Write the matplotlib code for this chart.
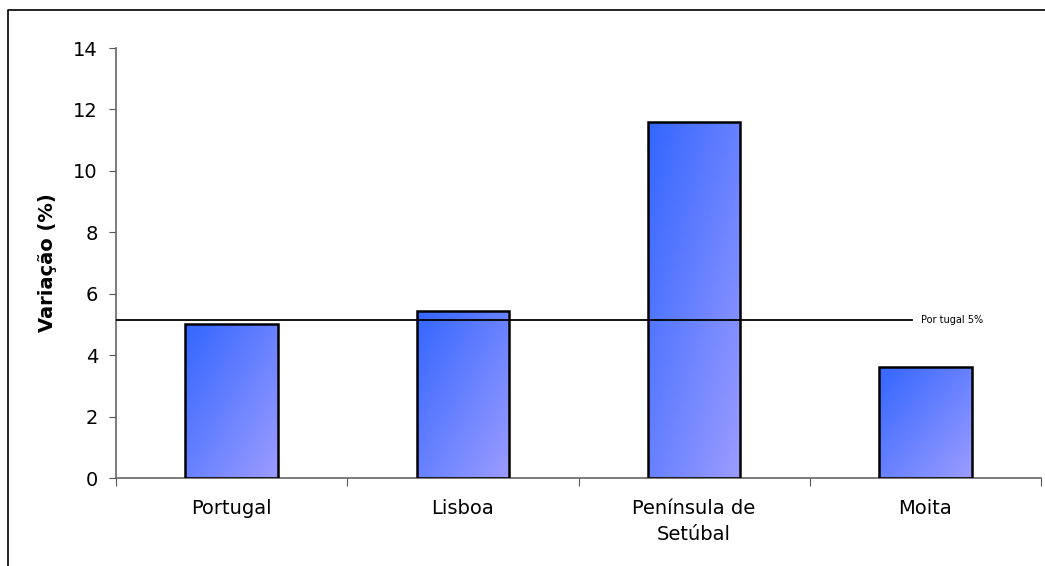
import matplotlib
matplotlib.use("Agg")
import matplotlib.pyplot as plt
import numpy as np
from matplotlib.colors import LinearSegmentedColormap
from matplotlib.lines import Line2D

# data
categories = ["Portugal", "Lisboa", "Península de\nSetúbal", "Moita"]
variacao = [5.0, 5.45, 11.6, 3.6]
portugal_ref = 5.15
ref_label = "Por tugal 5%"

fig = plt.figure(figsize=(10.45, 5.66), dpi=100)
ax = fig.add_axes([116 / 1045, 1 - 478 / 566, (1041 - 116) / 1045, (478 - 48) / 566])

x = np.arange(len(categories))
bars = ax.bar(x, variacao, width=0.4, facecolor="none", edgecolor="black",
              linewidth=1.8, zorder=3)

# diagonal gradient fill, top-left dark blue -> bottom-right lavender
cmap = LinearSegmentedColormap.from_list("grad", ["#3366ff", "#9c9cff"])
u, v = np.meshgrid(np.linspace(0, 1, 100), np.linspace(0, 1, 200))
grad = (u + v) / 2
for bar in bars:
    x0, w, h = bar.get_x(), bar.get_width(), bar.get_height()
    im = ax.imshow(grad, cmap=cmap, extent=[x0, x0 + w, 0, h], origin="upper",
                   aspect="auto", zorder=2, interpolation="bilinear")
    im.set_clip_path(bar)

# reference line for Portugal
ax.plot([-0.5, 2.94], [portugal_ref, portugal_ref], color="black", lw=1.3, zorder=4)
ax.text(2.98, portugal_ref, ref_label, fontsize=7, va="center", ha="left")

ax.set_xlim(-0.5, len(categories) - 0.5)
ax.set_ylim(0, 14)
ax.set_yticks(np.arange(0, 15, 2))
ax.set_xticks(np.arange(-0.5, len(categories), 1), minor=False)
ax.set_xticklabels([])
ax.set_xticks(x, minor=True)
ax.set_xticklabels(categories, minor=True, fontsize=14, linespacing=1.45)
ax.tick_params(axis="x", which="minor", length=0, pad=15)
ax.tick_params(axis="x", which="major", length=6, direction="out", color="#555555")
ax.tick_params(axis="y", length=5, direction="out", color="#555555", labelsize=14, pad=8)

for s in ["top", "right"]:
    ax.spines[s].set_visible(False)
for s in ["left", "bottom"]:
    ax.spines[s].set_color("#666666")
    ax.spines[s].set_linewidth(1.2)
ax.set_aspect("auto")

ax.set_ylabel("Variação (%)", fontsize=14, fontweight="bold", labelpad=12)

# outer frame (left and top only visible)
fx = 8 / 1045
fy = 1 - 10 / 566
fig.add_artist(Line2D([fx, fx, 1], [0, fy, fy], color="black", lw=1.2,
                      transform=fig.transFigure))

fig.savefig("out.png", dpi=100)
